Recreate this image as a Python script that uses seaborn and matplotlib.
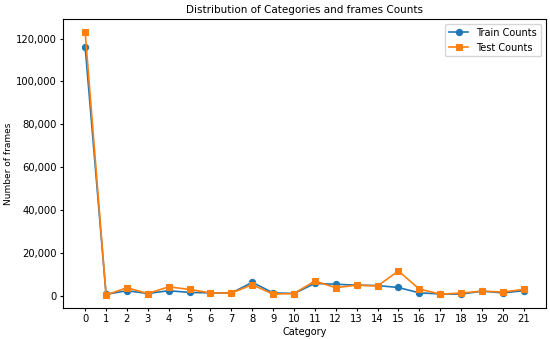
import matplotlib
matplotlib.use('Agg')
import matplotlib.pyplot as plt
import matplotlib.ticker as mticker
import pandas as pd
import seaborn as sns

# counts per category
categories = list(range(22))
train_counts = [116000, 800, 2500, 1200, 2500, 1700, 1500, 1400, 6400, 1500, 1200,
                5900, 5500, 5100, 4900, 4000, 1500, 1000, 900, 2300, 1500, 2500]
test_counts = [123000, 500, 3900, 1200, 4300, 3100, 1500, 1400, 5300, 900, 1200,
               7000, 3900, 5100, 4700, 11700, 3300, 900, 1400, 2300, 1900, 3100]

df = pd.DataFrame({'Category': categories, 'Train': train_counts, 'Test': test_counts})

fig, ax = plt.subplots(figsize=(5.5, 3.39), dpi=100)
sns.lineplot(x='Category', y='Train', data=df, marker='o', markersize=4.5, linewidth=1.2,
             color='tab:blue', markeredgecolor='tab:blue', label='Train Counts', ax=ax)
sns.lineplot(x='Category', y='Test', data=df, marker='s', markersize=4.5, linewidth=1.2,
             color='tab:orange', markeredgecolor='tab:orange', label='Test Counts', ax=ax)

ax.set_title('Distribution of Categories and frames Counts', fontsize=7.5, pad=4)
ax.set_xlabel('Category', fontsize=7, labelpad=2)
ax.set_ylabel('Number of frames', fontsize=6.5, labelpad=2)
ax.set_xticks(categories)
ax.tick_params(labelsize=7.2, length=2.5, pad=2)
ax.yaxis.set_major_formatter(mticker.StrMethodFormatter('{x:,.0f}'))
ax.legend(fontsize=7, loc='upper right')

plt.subplots_adjust(left=0.115, right=0.992, top=0.944, bottom=0.091)
plt.savefig('out.png', dpi=100)
